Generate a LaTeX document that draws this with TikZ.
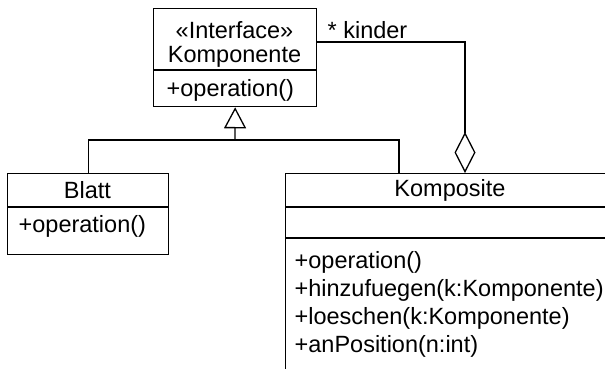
\documentclass[tikz,border=0pt]{standalone}
\usepackage{fontspec}
\setmainfont{Liberation Sans}
\usetikzlibrary{calc,positioning,arrows.meta}

\begin{document}
\begin{tikzpicture}[
  x=1pt, y=-1pt,
  line width=1.3pt,
  every node/.style={font=\fontsize{23.5}{28}\selectfont, inner sep=0pt},
  classbox/.style={draw, rectangle, anchor=north west, line width=1.3pt},
  member/.style={anchor=west, align=left},
  inherit/.style={-{Triangle[open, length=21pt, width=22pt]}},
  aggreg/.style={{Diamond[open, length=41pt, width=21pt]}-},
]
\clip (0,0) rectangle (605,369);

% === Komponente (interface) ===
\node[classbox, minimum width=163pt, minimum height=98pt] (komp) at (153,8) {};
\node (komp-stereo) at (234.5,30) {«Interface»};
\node (komp-name) at (234.5,57) {Komponente};
\draw ($(komp.north west)+(0,62)$) -- ($(komp.north east)+(0,62)$);
\node[member] (komp-op) at (166,90) {+operation()};

% === Blatt ===
\node[classbox, minimum width=161pt, minimum height=81pt] (blatt) at (7,173) {};
\node (blatt-name) at (87.5,190) {Blatt};
\draw ($(blatt.north west)+(0,34)$) -- ($(blatt.north east)+(0,34)$);
\node[member] (blatt-op) at (18,226) {+operation()};

% === Komposite ===
\node[classbox, minimum width=330pt, minimum height=220pt] (kpos) at (285,173) {};
\node (kpos-name) at (450,190) {Komposite};
\draw ($(kpos.north west)+(0,34)$) -- ($(kpos.north east)+(0,34)$);
\draw ($(kpos.north west)+(0,65)$) -- ($(kpos.north east)+(0,65)$);
\node[member, anchor=north west] (kpos-ops) at (294,251)
  {+operation()\\+hinzufuegen(k:Komponente)\\+loeschen(k:Komponente)\\+anPosition(n:int)};

% Generalisierung
\coordinate (bus) at (235,140);
\coordinate (kpos-in) at ($(kpos.north west)+(114,0)$);
\draw (blatt.north) |- (bus) -| (kpos-in);
\draw[inherit] (bus) -- (komp.south);

% Aggregation
\coordinate (agg-start) at ($(kpos.north west)+(180,0)$);
\coordinate (agg-end) at ($(komp.north east)+(0,34)$);
\draw[aggreg] (agg-start) |- (agg-end);
\node[anchor=west] (kinder) at (327,30) {* kinder};
\end{tikzpicture}
\end{document}
